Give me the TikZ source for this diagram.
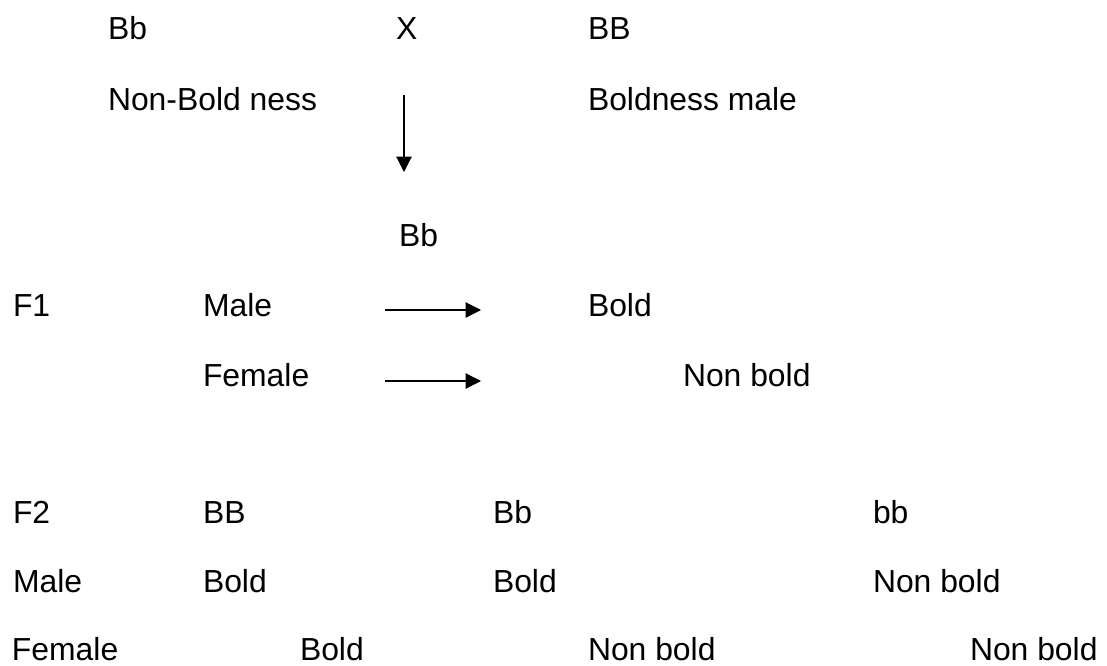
\documentclass[tikz,border=0pt]{standalone}
\usepackage{fontspec}
\setmainfont{Liberation Sans}
\usetikzlibrary{arrows.meta}
\begin{document}
\begin{tikzpicture}[x=0.75pt,y=-0.75pt,
  lbl/.style={anchor=base west,inner sep=0pt,outer sep=0pt,font=\fontsize{23.9}{28}\selectfont},
  arr/.style={line width=0.85pt,-{Triangle[length=11.5pt,width=11.5pt]}}]
\useasboundingbox (0,0) rectangle (1107,665);
% parents
\node[lbl] (p1) at (108,39) {Bb};
\node[lbl] (px) at (396,39) {X};
\node[lbl] (p2) at (588,39) {BB};
\node[lbl] (d1) at (108,110) {Non-Bold ness};
\node[lbl] (d2) at (588,110) {Boldness male};
\coordinate (va) at (404,95);
\coordinate (vb) at (404,172);
\draw[arr] (va) -- (vb);
\node[lbl] (f1g) at (399,246) {Bb};
% F1
\node[lbl] (f1) at (13,316) {F1};
\node[lbl] (f1m) at (203,316) {Male};
\node[lbl] (f1mb) at (588,316) {Bold};
\node[lbl] (f1f) at (203,386) {Female};
\node[lbl] (f1fb) at (683,386) {Non bold};
\coordinate (h1a) at (385,310);
\coordinate (h1b) at (481,310);
\coordinate (h2a) at (385,381);
\coordinate (h2b) at (481,381);
\draw[arr] (h1a) -- (h1b);
\draw[arr] (h2a) -- (h2b);
% F2
\node[lbl] (f2) at (13,523) {F2};
\node[lbl] (g1) at (203,523) {BB};
\node[lbl] (g2) at (493,523) {Bb};
\node[lbl] (g3) at (873,523) {bb};
\node[lbl] (m0) at (13,592) {Male};
\node[lbl] (m1) at (203,592) {Bold};
\node[lbl] (m2) at (493,592) {Bold};
\node[lbl] (m3) at (873,592) {Non bold};
\node[lbl] (w0) at (12,660) {Female};
\node[lbl] (w1) at (300,660) {Bold};
\node[lbl] (w2) at (588,660) {Non bold};
\node[lbl] (w3) at (970,660) {Non bold};
\end{tikzpicture}
\end{document}
